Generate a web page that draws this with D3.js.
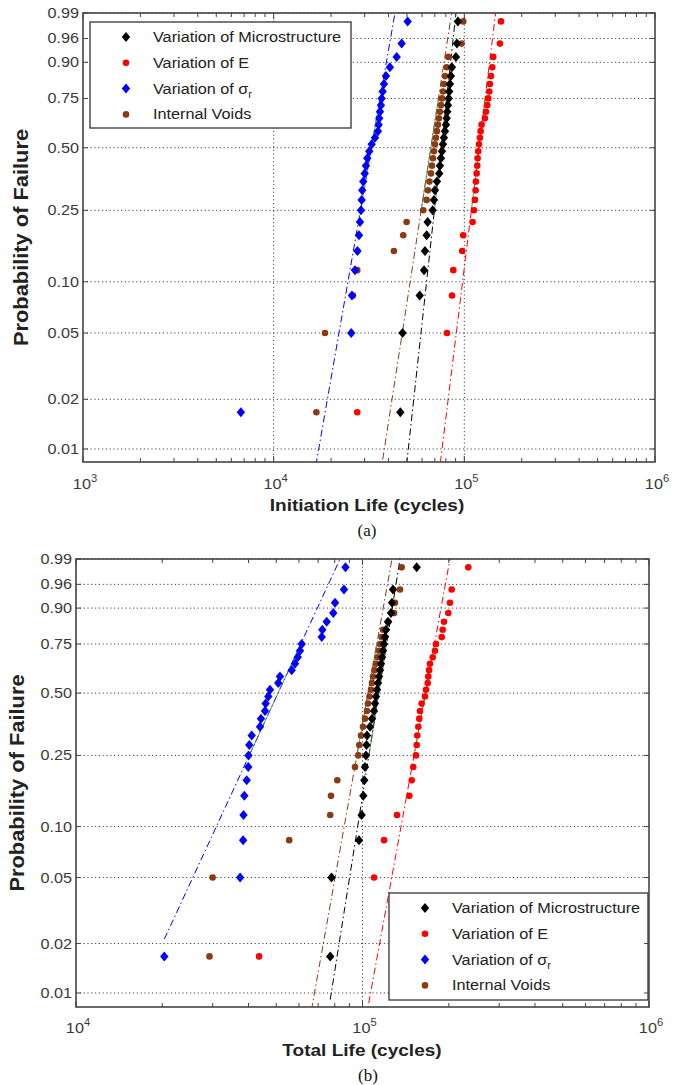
<!DOCTYPE html>
<html lang="en">
<head>
<meta charset="UTF-8">
<title>Probability of Failure</title>
<script src="https://cdn.jsdelivr.net/npm/d3@7"></script>
<style>
  body { margin: 0; background: #fff; }
  svg { display: block; font-family: "Liberation Sans", Arial, sans-serif; }
</style>
</head>
<body>
<div id="chart"></div>
<script>
// legend order: microstructure, E, sigma_r, voids
var seriesNames = ["Variation of Microstructure", "Variation of E", "Variation of σ", "Internal Voids"];
var seriesSub = ["", "", "r", ""];
var seriesColors = ["#000000", "#ff0000", "#0000ff", "#8c3a14"];
var seriesShapes = ["diamond", "circle", "diamond", "circle"];

var yTickValues = [0.01, 0.02, 0.05, 0.10, 0.25, 0.50, 0.75, 0.90, 0.96, 0.99];
var yTickLabels = ["0.01", "0.02", "0.05", "0.10", "0.25", "0.50", "0.75", "0.90", "0.96", "0.99"];

// plotting positions of the 30 ranked samples
var rankProb = [0.0167, 0.05, 0.0833, 0.1167, 0.15, 0.1833, 0.2167, 0.25, 0.2833, 0.3167,
                0.35, 0.3833, 0.4167, 0.45, 0.4833, 0.5167, 0.55, 0.5833, 0.6167, 0.65,
                0.6833, 0.7167, 0.75, 0.7833, 0.8167, 0.85, 0.8833, 0.9167, 0.95, 0.9833];

// (a) initiation life, cycles
var initMicro = [46170, 47410, 58350, 61480, 62150, 63440, 64210, 68200, 69280, 70120,
                 71830, 73860, 74470, 75390, 76300, 77240, 78170, 79130, 80080, 80770,
                 81350, 82040, 82750, 83340, 84050, 85070, 86100, 90360, 91470, 92560];
var initE = [27440, 81050, 86180, 87540, 97500, 98670, 110500, 112300, 113600, 114600,
             115000, 116000, 116900, 117400, 118300, 119300, 120700, 121800, 123200, 128200,
             129800, 131900, 133500, 135100, 136200, 137900, 140100, 141800, 153700, 155600];
var initSigma = [6730, 25520, 25740, 26690, 27510, 28020, 28350, 28700, 28940, 29150,
                 29500, 30010, 30480, 30970, 31720, 32650, 33980, 35230, 35530, 35790,
                 36090, 36530, 36840, 37290, 37880, 38800, 40710, 44160, 46900, 50430];
var initVoids = [16750, 18580, 26050, 27440, 42730, 47810, 49820, 60890, 63440, 64440,
                 65610, 66820, 67630, 68450, 69280, 70120, 70980, 71830, 72710, 73600,
                 74470, 75390, 76300, 77240, 78170, 79130, 80770, 82340, 96780, 98670];
// Weibull fit lines [scale, shape]
var initFit = [[78300, 10.65], [124200, 9.47], [34400, 6.65], [70060, 7.54]];

// (b) total life, cycles
var totalMicro = [77150, 77950, 97230, 99290, 100650, 101460, 102020, 102850, 103270, 103680,
                  106220, 107940, 109680, 110570, 111460, 112360, 113270, 114180, 115110, 116040,
                  116980, 117930, 118850, 119820, 120780, 122740, 125740, 126760, 127790, 154600];
var totalE = [43560, 109770, 118900, 131960, 145700, 148500, 150400, 153700, 154600, 155300,
              156600, 157800, 158700, 160900, 165200, 166600, 168900, 169700, 170700, 172000,
              175800, 179100, 180500, 189000, 190500, 192500, 199300, 202000, 204800, 234000];
var totalSigma = [20330, 37400, 38310, 38430, 38680, 39430, 39940, 40000, 40260, 41050,
                  43870, 44220, 45670, 45920, 46900, 47540, 50820, 51520, 56600, 58120,
                  59400, 60500, 61350, 72060, 72410, 74990, 79080, 80170, 86170, 87220];
var totalVoids = [29240, 29980, 55480, 77150, 77620, 81660, 94150, 96680, 97450, 98810,
                  100400, 102020, 103680, 104520, 105780, 107070, 107940, 108800, 110120, 111460,
                  112810, 114180, 115110, 116510, 117930, 123030, 128820, 129850, 135170, 137010];
var totalFit = [[117800, 11.09], [172300, 9.6], [55860, 3.80], [108500, 9.84]];

var width = 679, height = 1085;

var svg = d3.select("#chart").append("svg")
    .attr("width", width)
    .attr("height", height);

// Weibull probability transform
function wb(p) { return Math.log(-Math.log(1 - p)); }

function drawPanel(cfg) {
    var x = d3.scaleLog().domain(cfg.xDomain).range([cfg.left, cfg.right]);
    var y = d3.scaleLinear().domain([cfg.wBottom, wb(0.99)]).range([cfg.bottom, cfg.top]);
    var g = svg.append("g");

    g.append("clipPath").attr("id", cfg.id + "clip")
        .append("rect")
        .attr("x", cfg.left).attr("y", cfg.top)
        .attr("width", cfg.right - cfg.left).attr("height", cfg.bottom - cfg.top);

    // grid
    var grid = g.append("g").attr("stroke", "#444").attr("stroke-width", 1)
        .attr("stroke-dasharray", "1.2,2.6");
    yTickValues.forEach(function(p) {
        grid.append("line")
            .attr("x1", cfg.left).attr("x2", cfg.right)
            .attr("y1", y(wb(p))).attr("y2", y(wb(p)));
    });
    cfg.xGrid.forEach(function(v) {
        grid.append("line")
            .attr("x1", x(v)).attr("x2", x(v))
            .attr("y1", cfg.top).attr("y2", cfg.bottom);
    });

    var plot = g.append("g").attr("clip-path", "url(#" + cfg.id + "clip)");

    // fit lines, drawn over the data range
    cfg.series.forEach(function(data, i) {
        var eta = cfg.fit[i][0], beta = cfg.fit[i][1];
        var ends = d3.extent(data);
        plot.append("line")
            .attr("x1", x(ends[0])).attr("y1", y(beta * Math.log(ends[0] / eta)))
            .attr("x2", x(ends[1])).attr("y2", y(beta * Math.log(ends[1] / eta)))
            .attr("stroke", seriesColors[i])
            .attr("stroke-width", 1)
            .attr("stroke-dasharray", "7,3,1.5,3");
        // solid segment between quartiles
        var q1 = eta * Math.pow(-Math.log(0.75), 1 / beta);
        var q3 = eta * Math.pow(-Math.log(0.25), 1 / beta);
        plot.append("line")
            .attr("x1", x(q1)).attr("y1", y(wb(0.25)))
            .attr("x2", x(q3)).attr("y2", y(wb(0.75)))
            .attr("stroke", "#3d8c3d")
            .attr("stroke-width", 1)
            .attr("opacity", 0.8);
    });

    // markers, voids first so the others sit on top
    [3, 2, 1, 0].forEach(function(i) {
        var pts = cfg.series[i].map(function(v, k) { return [v, rankProb[k]]; });
        drawMarkers(plot, pts, i, function(d) { return x(d[0]); }, function(d) { return y(wb(d[1])); });
    });

    // legend
    var lg = g.append("g");
    lg.append("rect")
        .attr("x", cfg.legend.x).attr("y", cfg.legend.y)
        .attr("width", cfg.legend.w).attr("height", cfg.legend.h)
        .attr("fill", "#fff").attr("stroke", "#333").attr("stroke-width", 1.3);
    seriesNames.forEach(function(name, i) {
        var ly = cfg.legend.y + 15 + i * 25.8;
        drawMarkers(lg, [[0, 0]], i,
            function() { return cfg.legend.x + 36; }, function() { return ly; });
        var t = lg.append("text")
            .attr("transform", "translate(" + (cfg.legend.x + 63) + "," + (ly + 5) + ") scale(1.12,1)")
            .attr("font-size", 14.5).attr("fill", "#222")
            .text(name);
        if (seriesSub[i]) {
            t.append("tspan").attr("dy", 4).attr("font-size", 10).text(seriesSub[i]);
        }
    });

    // box and ticks
    var ax = g.append("g").attr("stroke", "#444").attr("fill", "none");
    ax.append("rect")
        .attr("x", cfg.left).attr("y", cfg.top)
        .attr("width", cfg.right - cfg.left).attr("height", cfg.bottom - cfg.top)
        .attr("stroke-width", 1.6);
    yTickValues.forEach(function(p) {
        var yy = y(wb(p));
        ax.append("line").attr("x1", cfg.left).attr("x2", cfg.left + 5).attr("y1", yy).attr("y2", yy);
        ax.append("line").attr("x1", cfg.right).attr("x2", cfg.right - 5).attr("y1", yy).attr("y2", yy);
    });
    x.ticks().forEach(function(v) {
        var major = Math.abs(Math.log10(v) - Math.round(Math.log10(v))) < 1e-9;
        var len = major ? 6 : 4;
        ax.append("line").attr("x1", x(v)).attr("x2", x(v))
            .attr("y1", cfg.bottom).attr("y2", cfg.bottom - len);
        ax.append("line").attr("x1", x(v)).attr("x2", x(v))
            .attr("y1", cfg.top).attr("y2", cfg.top + len);
    });

    // tick labels
    yTickValues.forEach(function(p, k) {
        g.append("text")
            .attr("transform", "translate(" + (cfg.left - 4) + "," + (y(wb(p)) + 5) + ") scale(1.12,1)")
            .attr("text-anchor", "end")
            .attr("font-size", 14.5).attr("fill", "#3a3a3a")
            .text(yTickLabels[k]);
    });
    cfg.xLabels.forEach(function(v) {
        var t = g.append("text")
            .attr("transform", "translate(" + (x(v) + 2) + "," + cfg.xLabelY + ") scale(1.12,1)")
            .attr("text-anchor", "middle")
            .attr("font-size", 14.5).attr("fill", "#3a3a3a")
            .text("10");
        t.append("tspan").attr("dy", -7).attr("font-size", 10)
            .text(Math.round(Math.log10(v)));
    });

    // titles
    g.append("text")
        .attr("transform", "translate(" + cfg.yTitleX + "," + ((cfg.top + cfg.bottom) / 2) + ") rotate(-90) scale(1.12,1)")
        .attr("text-anchor", "middle")
        .attr("font-size", 19.5).attr("font-weight", "bold").attr("fill", "#222")
        .text("Probability of Failure");
    g.append("text")
        .attr("transform", "translate(" + cfg.xTitle[0] + "," + cfg.xTitle[1] + ") scale(1.12,1)")
        .attr("text-anchor", "middle")
        .attr("font-size", 17).attr("font-weight", "bold").attr("fill", "#222")
        .text(cfg.title);
    g.append("text")
        .attr("x", cfg.caption[0]).attr("y", cfg.caption[1])
        .attr("text-anchor", "middle")
        .attr("font-family", "'Liberation Serif', 'Times New Roman', serif")
        .attr("font-size", 17).attr("fill", "#111")
        .text(cfg.captionText);
}

function drawMarkers(sel, pts, i, fx, fy) {
    if (seriesShapes[i] == "diamond") {
        sel.selectAll(null).data(pts).join("path")
            .attr("d", function(d) {
                var cx = fx(d), cy = fy(d);
                return "M" + cx + "," + (cy - 5) + "L" + (cx + 4.2) + "," + cy +
                    "L" + cx + "," + (cy + 5) + "L" + (cx - 4.2) + "," + cy + "Z";
            })
            .attr("fill", seriesColors[i]);
    } else {
        sel.selectAll(null).data(pts).join("circle")
            .attr("cx", fx).attr("cy", fy).attr("r", 3.3)
            .attr("fill", seriesColors[i]);
    }
}

drawPanel({
    id: "a",
    xDomain: [1e3, 1e6], left: 83, right: 655, top: 13, bottom: 462,
    wBottom: -4.783,
    xGrid: [1e4, 1e5], xLabels: [1e3, 1e4, 1e5, 1e6], xLabelY: 489,
    series: [initMicro, initE, initSigma, initVoids], fit: initFit,
    legend: {x: 90, y: 22, w: 261, h: 106},
    yTitleX: 28, title: "Initiation Life (cycles)", xTitle: [367, 511],
    caption: [367, 536], captionText: "(a)"
});

drawPanel({
    id: "b",
    xDomain: [1e4, 1e6], left: 76, right: 649, top: 559, bottom: 1007,
    wBottom: -4.798,
    xGrid: [1e5], xLabels: [1e4, 1e5, 1e6], xLabelY: 1033,
    series: [totalMicro, totalE, totalSigma, totalVoids], fit: totalFit,
    legend: {x: 389, y: 893, w: 259, h: 107},
    yTitleX: 24, title: "Total Life (cycles)", xTitle: [362, 1056],
    caption: [368, 1081], captionText: "(b)"
});
</script>
</body>
</html>
